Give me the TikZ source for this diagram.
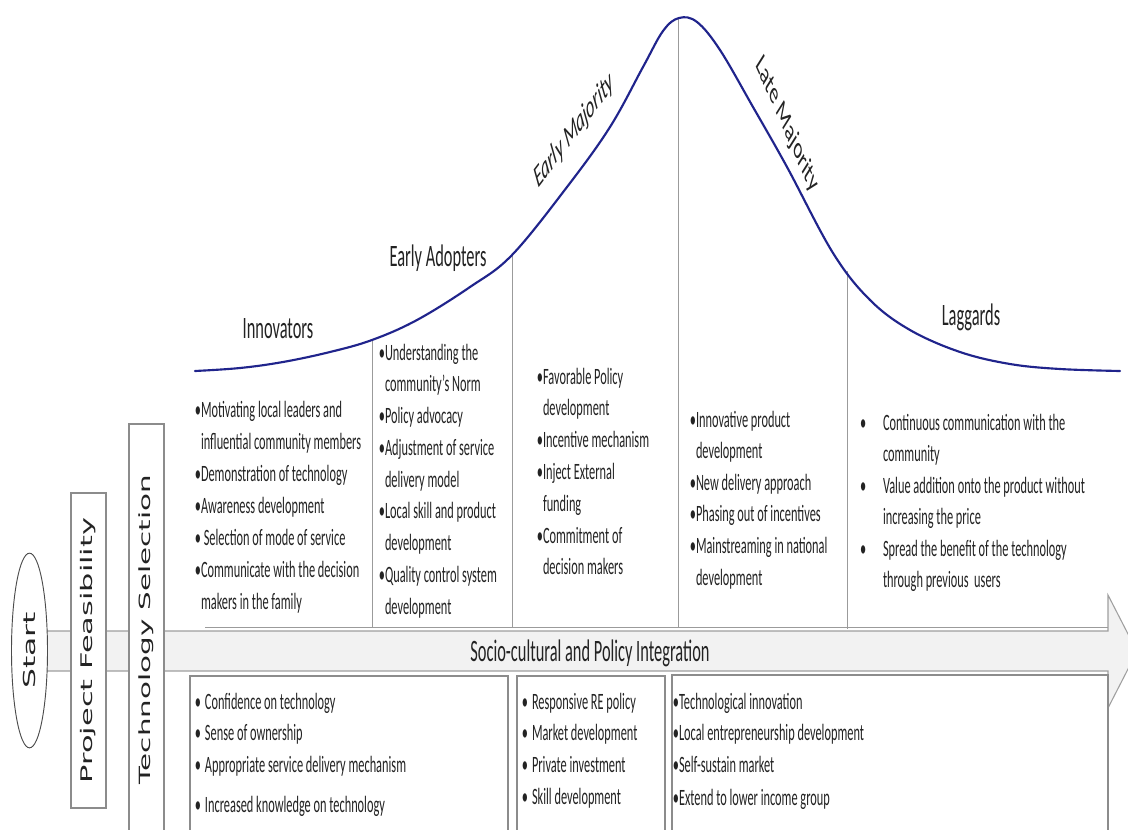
\documentclass[tikz,border=0pt]{standalone}
\usepackage{fontspec}
\usepackage{graphicx}
\usetikzlibrary{shapes.geometric}
\newfontfamily\calfont{Carlito}
\newfontfamily\dvfont{DejaVu Sans}
\newcommand\vst[1]{\scalebox{1}[1.9]{#1}}
\newcommand\bul{\llap{\textbullet}}
\newcommand\bulsp{\llap{\textbullet\hspace{3pt}}}
\newcommand\bulw{\llap{\textbullet\hspace{12.5pt}}}
\definecolor{curveblue}{RGB}{32,36,140}
\definecolor{linegray}{RGB}{155,155,155}
\definecolor{boxgray}{RGB}{140,140,140}
\definecolor{txt}{RGB}{35,35,35}
\definecolor{arrowfill}{RGB}{242,242,242}
\begin{document}
\begin{tikzpicture}[x=0.75pt,y=-0.75pt,
  item/.style={anchor=base west, inner sep=0pt, outer sep=0pt, font=\calfont\fontsize{9.25}{11}\selectfont, text=txt},
  lbl/.style={inner sep=0pt, font=\calfont\fontsize{12.3}{14}\selectfont, text=txt},
  divider/.style={draw=linegray, line width=0.6pt},
  listbox/.style={draw=boxgray, line width=0.8pt, fill=white},
  vbox/.style={draw=boxgray, line width=0.8pt, fill=white, inner sep=0pt, minimum width=26.25pt, text=txt}
]
\useasboundingbox (0,0) rectangle (1128,829);
\fill[white] (0,0) rectangle (1128,829);
\clip (0,0) rectangle (1128,829);

% main arrow
\draw[draw=gray!75, fill=arrowfill, line width=0.8pt]
  (30,631) -- (1108,631) -- (1108,595) -- (1137,651.5) -- (1108,708) -- (1108,671) -- (30,671) -- cycle;

% upper region bottom line
\coordinate (ubl) at (205,627);
\coordinate (ubr) at (1108,627);
\draw[divider] (ubl) -- (ubr);

% dividers
\coordinate (d1t) at (372,341); \coordinate (d1b) at (372,627);
\coordinate (d2t) at (512,255); \coordinate (d2b) at (512,627);
\coordinate (d3t) at (678,18);  \coordinate (d3b) at (678,627);
\coordinate (d4t) at (847,271); \coordinate (d4b) at (847,629);
\draw[divider] (d1t) -- (d1b);
\draw[divider] (d2t) -- (d2b);
\draw[divider] (d3t) -- (d3b);
\draw[divider] (d4t) -- (d4b);

% bell curve
\draw[curveblue, line width=1.6pt, line cap=round] plot[smooth, tension=0.6] coordinates {
 (195,371) (240,368) (283,362) (330,352) (372,340) (417,320) (470,287) (512,255)
 (567,187) (610,127) (643,67) (663,31) (679,18) (697,22) (720,50) (753,107)
 (787,167) (833,253) (870,300) (910,330) (960,352) (1010,364) (1060,369) (1120,371)};

% lower boxes
\draw[listbox] (190,676) rectangle (508,840);
\draw[listbox] (517,676) rectangle (665,840);
\draw[listbox] (672,675) rectangle (1108,840);

% left stage shapes
\node[ellipse, draw=black!70, fill=white, line width=0.7pt, minimum width=27pt, minimum height=146pt, inner sep=0pt, text=txt] (start) at (29.5,650.5)
  {\vst{\rotatebox{90}{\dvfont\fontsize{12.4}{14}\selectfont Start}}};
\node[vbox, minimum height=236.25pt] (pf) at (88.5,650.5)
  {\vst{\rotatebox{90}{\dvfont\fontsize{12}{14}\selectfont Project Feasibility}}};
\node[vbox, minimum height=308.25pt] (ts) at (146.5,629.5)
  {\vst{\rotatebox{90}{\dvfont\fontsize{11.6}{14}\selectfont Technology Selection}}};

% curve labels
\node[lbl, anchor=base] (innov) at (278,338) {\vst{Innovators}};
\node[lbl, anchor=base] (eadopt) at (438,266) {\vst{Early Adopters}};
\node[lbl, anchor=base] (lagg) at (971,325) {\vst{Laggards}};
\node[lbl] (emaj) at (574,131) {\vst{\rotatebox{35}{\itshape Early Majority}}};
\node[lbl] (lmaj) at (787,125) {\vst{\rotatebox{-50}{Late Majority}}};
\node[lbl, anchor=base] (socio) at (590,661) {\vst{Socio-cultural and Policy Integration}};

% column 1
\foreach \t [count=\i from 0] in {
  {\bul Motivating local leaders and},
  {influential community members},
  {\bul Demonstration of technology},
  {\bul Awareness development},
  {\bul\ Selection of mode of service},
  {\bul Communicate with the decision},
  {makers in the family}}
  \node[item] (ca\i) at ({201},{417+\i*32}) {\vst{\t}};

% column 2
\foreach \t [count=\i from 0] in {
  {\bul Understanding the},
  {community’s Norm},
  {\bul Policy advocacy},
  {\bul Adjustment of service},
  {delivery model},
  {\bul Local skill and product},
  {development},
  {\bul Quality control system},
  {development}}
  \node[item] (cb\i) at ({385},{360+\i*31.75}) {\vst{\t}};

% column 3
\foreach \t [count=\i from 0] in {
  {\bul Favorable Policy},
  {development},
  {\bul Incentive mechanism},
  {\bul Inject External},
  {funding},
  {\bul Commitment of},
  {decision makers}}
  \node[item] (cc\i) at ({543},{384+\i*31.8}) {\vst{\t}};

% column 4
\foreach \t [count=\i from 0] in {
  {\bul Innovative product},
  {development},
  {\bul New delivery approach},
  {\bul Phasing out of incentives},
  {\bul Mainstreaming in national},
  {development}}
  \node[item] (cd\i) at ({696},{427+\i*31.6}) {\vst{\t}};

% column 5
\foreach \t [count=\i from 0] in {
  {\bulw Continuous communication with the},
  {community},
  {\bulw Value addition onto the product without},
  {increasing the price},
  {\bulw Spread the benefit of the technology},
  {through previous\ \ users}}
  \node[item] (ce\i) at ({883},{430+\i*31.5}) {\vst{\t}};

% lower box 1
\foreach \t/\y [count=\i] in {
  {\bulsp Confidence on technology}/709,
  {\bulsp Sense of ownership}/740,
  {\bulsp Appropriate service delivery mechanism}/772,
  {\bulsp Increased knowledge on technology}/812}
  \node[item] (la\i) at ({205},{\y}) {\vst{\t}};

% lower box 2
\foreach \t/\y [count=\i] in {
  {\bulsp Responsive RE policy}/709,
  {\bulsp Market development}/740,
  {\bulsp Private investment}/772.5,
  {\bulsp Skill development}/804}
  \node[item] (lb\i) at ({532},{\y}) {\vst{\t}};

% lower box 3
\foreach \t/\y [count=\i] in {
  {\bul Technological innovation}/709,
  {\bul Local entrepreneurship development}/740,
  {\bul Self-sustain market}/772,
  {\bul Extend to lower income group}/805}
  \node[item] (lc\i) at ({679},{\y}) {\vst{\t}};
\end{tikzpicture}
\end{document}
